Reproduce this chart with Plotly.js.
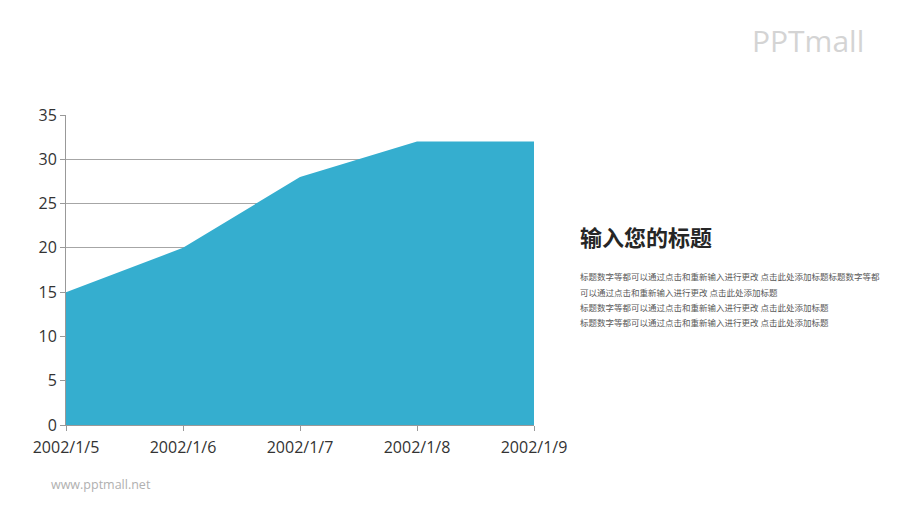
<!DOCTYPE html>
<html>
<head>
<meta charset="utf-8">
<script src="https://cdn.plot.ly/plotly-3.0.1.min.js"></script>
<style>
html,body{margin:0;padding:0;background:#fff;}
#chart{width:900px;height:506px;}
</style>
</head>
<body>
<div id="chart"></div>
<script>
const categories = ["2002/1/5", "2002/1/6", "2002/1/7", "2002/1/8", "2002/1/9"];
const values = [15, 20, 28, 32, 32];
const yTicks = [0, 5, 10, 15, 20, 25, 30, 35];
const titleText = "输入您的标题";
const bodyLines = [
  "标题数字等都可以通过点击和重新输入进行更改 点击此处添加标题标题数字等都",
  "可以通过点击和重新输入进行更改 点击此处添加标题",
  "标题数字等都可以通过点击和重新输入进行更改 点击此处添加标题",
  "标题数字等都可以通过点击和重新输入进行更改 点击此处添加标题"
];

const trace = {
  type: "scatter",
  mode: "lines",
  x: categories,
  y: values,
  fill: "tozeroy",
  fillcolor: "#35AECF",
  line: {color: "#35AECF", width: 0},
  hoverinfo: "skip"
};

const annotations = [
  {text: titleText, x: 578, y: 236, showarrow: false,
   xanchor: "left", yanchor: "middle",
   font: {family: "Noto Sans CJK SC", size: 22, color: "#262626", weight: 700}},
  {text: "www.pptmall.net", x: 49, y: 484, showarrow: false, xanchor: "left", yanchor: "middle",
   font: {family: "Open Sans", size: 12.5, color: "#b0b0b0"}},
  {text: "PPTmall", x: 750, y: 40, showarrow: false, xanchor: "left", yanchor: "middle",
   font: {family: "Open Sans", size: 30, color: "#d4d4d4"}}
];
const lineYs = [276, 292, 307, 322];
bodyLines.forEach((t, i) => {
  annotations.push({text: t, x: 578, y: lineYs[i], showarrow: false, xanchor: "left", yanchor: "middle",
    font: {family: "Noto Sans CJK SC", size: 8.5, color: "#595959"}});
});
// convert pixel positions to paper coords
const W = 900, H = 506, L = 66, R = 366, T = 115, B = 81;
const pw = W - L - R, ph = H - T - B;
annotations.forEach(a => {
  a.xref = "paper"; a.yref = "paper";
  a.x = (a.x - L) / pw;
  a.y = (H - B - a.y) / ph;
});

const layout = {
  width: W, height: H,
  margin: {l: L, r: R, t: T, b: B, pad: 0},
  paper_bgcolor: "#fff", plot_bgcolor: "#fff",
  showlegend: false,
  font: {family: "Open Sans", color: "#333"},
  xaxis: {
    type: "category", range: [0, categories.length - 1],
    showgrid: false, zeroline: false,
    showline: true, linecolor: "#999", linewidth: 1,
    ticks: "outside", ticklen: 5, tickcolor: "#999",
    ticklabelstandoff: 3,
    tickfont: {family: "Open Sans", size: 16, color: "#333"},
    fixedrange: true
  },
  yaxis: {
    range: [0, 35], tickvals: yTicks, ticktext: yTicks.map(String),
    showgrid: true, gridcolor: "#a6a6a6", gridwidth: 1,
    zeroline: false,
    showline: true, linecolor: "#999", linewidth: 1,
    ticks: "outside", ticklen: 5, tickcolor: "#999",
    tickfont: {family: "Open Sans", size: 16, color: "#333"},
    fixedrange: true
  },
  annotations: annotations
};

Plotly.newPlot("chart", [trace], layout, {displayModeBar: false, staticPlot: true});
</script>
</body>
</html>
